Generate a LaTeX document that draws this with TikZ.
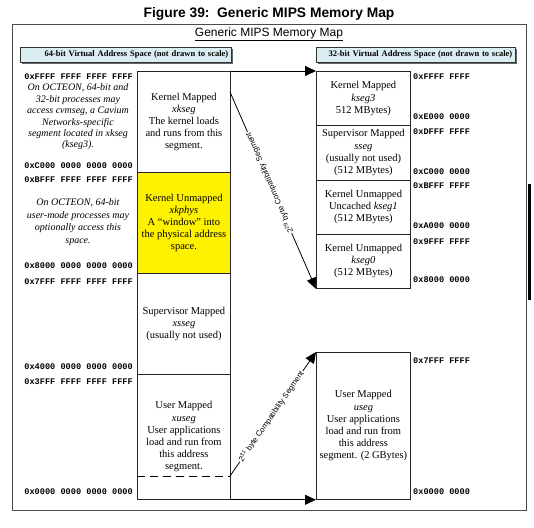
\documentclass[tikz,border=0pt]{standalone}
\usepackage{fontspec}
\setmainfont{Liberation Serif}
\newfontfamily\arialf{Liberation Sans}
\newfontfamily\monof{Liberation Mono}
\usetikzlibrary{arrows.meta,shadows}
\definecolor{hdrcyan}{RGB}{218,238,242}
\tikzset{
  seg/.style={draw=black!85, line width=0.8pt, anchor=north west, inner sep=0pt, align=center,
    font=\fontsize{10.5}{12.2}\selectfont},
  hdr/.style={draw=black!80, fill=hdrcyan, line width=0.6pt, anchor=north west,
    drop shadow={shadow xshift=1.2pt, shadow yshift=-1.2pt, fill=black!60, opacity=1},
    text width=203pt, align=right, inner xsep=3pt, inner ysep=0pt, minimum height=15pt,
    font=\bfseries\fontsize{8.5}{9}\selectfont},
  addrl/.style={anchor=east, inner sep=0pt, font=\monof\bfseries\fontsize{8.6}{9}\selectfont},
  addrr/.style={anchor=west, inner sep=0pt, font=\monof\bfseries\fontsize{8.6}{9}\selectfont},
  note/.style={align=center, inner sep=0pt, font=\itshape\fontsize{10}{11.4}\selectfont},
  arr/.style={line width=0.8pt, -{Triangle[length=11pt,width=10pt]}},
  lbl/.style={fill=white, inner sep=1pt, font=\arialf\fontsize{7.8}{9}\selectfont}
}
\begin{document}
\begin{tikzpicture}[x=1pt,y=-1pt]
\fill[white] (0,0) rectangle (534,527);
\useasboundingbox (0,0) rectangle (534,527);

\node[font=\arialf\bfseries\fontsize{13.8}{16}\selectfont] (title) at (269,14) {Figure 39:\ \ Generic MIPS Memory Map};
\node[draw=black!70, line width=0.8pt, minimum width=514pt, minimum height=486pt, anchor=north west, inner sep=0pt] (frame) at (12,24) {};
\node[font=\arialf\fontsize{12}{13}\selectfont] (sub) at (269,34) {\underline{Generic MIPS Memory Map}};

\node[hdr, text width=205pt] (h64) at (20,47) {64-bit Virtual Address Space (not drawn to scale)};
\node[hdr, text width=193pt] (h32) at (316,47) {32-bit Virtual Address Space (not drawn to scale)};

% 64-bit column
\node[seg, minimum width=93pt, minimum height=101pt] (xkseg) at (137,71)
  {Kernel Mapped\\\textit{xkseg}\\The kernel loads\\and runs from this\\segment.};
\node[seg, fill=yellow, minimum width=93pt, minimum height=101pt] (xkphys) at (137,172)
  {Kernel Unmapped\\\textit{xkphys}\\A “window” into\\the physical address\\space.};
\node[seg, minimum width=93pt, minimum height=101pt] (xsseg) at (137,273)
  {Supervisor Mapped\\\textit{xsseg}\\(usually not used)};
\node[seg, minimum width=93pt, minimum height=125pt] (xuseg) at (137,374)
  {User Mapped\\\textit{xuseg}\\User applications\\load and run from\\this address\\segment.};

% 32-bit column
\node[seg, minimum width=94pt, minimum height=54.25pt] (kseg3) at (316,71)
  {Kernel Mapped\\\textit{kseg3}\\512 MBytes)};
\node[seg, minimum width=94pt, minimum height=54.25pt] (sseg) at (316,125.25)
  {Supervisor Mapped\\\textit{sseg}\\(usually not used)\\(512 MBytes)};
\node[seg, minimum width=94pt, minimum height=54.25pt] (kseg1) at (316,179.5)
  {Kernel Unmapped\\Uncached \textit{kseg1}\\(512 MBytes)};
\node[seg, minimum width=94pt, minimum height=54.25pt] (kseg0) at (316,233.75)
  {Kernel Unmapped\\\textit{kseg0}\\(512 MBytes)};
\node[seg, minimum width=94pt, minimum height=147pt] (useg) at (316,352)
  {User Mapped\\\textit{useg}\\User applications\\load and run from\\this address\\segment. (2 GBytes)};

% notes
\node[note] (n1) at (78,117) {On OCTEON, 64-bit and\\32-bit processes may\\access cvmseg, a Cavium\\Networks-specific\\segment located in xkseg\\(kseg3).};
\node[note, font=\itshape\fontsize{10}{12.8}\selectfont] (n2) at (78,222) {On OCTEON, 64-bit\\user-mode processes may\\optionally access this\\space.};

% left addresses
\node[addrl] (a1) at (133,77) {0xFFFF FFFF FFFF FFFF};
\node[addrl] (a2) at (133,166) {0xC000 0000 0000 0000};
\node[addrl] (a3) at (133,180) {0xBFFF FFFF FFFF FFFF};
\node[addrl] (a4) at (133,266) {0x8000 0000 0000 0000};
\node[addrl] (a5) at (133,282) {0x7FFF FFFF FFFF FFFF};
\node[addrl] (a6) at (133,367) {0x4000 0000 0000 0000};
\node[addrl] (a7) at (133,382) {0x3FFF FFFF FFFF FFFF};
\node[addrl] (a8) at (133,492) {0x0000 0000 0000 0000};

% right addresses
\node[addrr] (b1) at (413,77) {0xFFFF FFFF};
\node[addrr] (b2) at (413,117) {0xE000 0000};
\node[addrr] (b3) at (413,132) {0xDFFF FFFF};
\node[addrr] (b4) at (413,172) {0xC000 0000};
\node[addrr] (b5) at (413,186) {0xBFFF FFFF};
\node[addrr] (b6) at (413,226) {0xA000 0000};
\node[addrr] (b7) at (413,242) {0x9FFF FFFF};
\node[addrr] (b8) at (413,280) {0x8000 0000};
\node[addrr] (b9) at (413,361) {0x7FFF FFFF};
\node[addrr] (b10) at (413,492) {0x0000 0000};

% connectors
\draw[arr] (xkseg.north east) -- (kseg3.north west);
\draw[arr] (xuseg.south east) -- (useg.south west);
\coordinate (c29) at (230,92);
\draw[line width=0.8pt, {Triangle[length=11pt,width=10pt]}-] (kseg0.south west) --
  node[lbl, sloped, allow upside down, pos=0.54] {2\textsuperscript{29} byte Compatibility Segment} (c29);
\coordinate (dl) at (137,476);
\coordinate (dr) at (230,476);
\draw[line width=0.8pt, dash pattern=on 8pt off 5pt] (dl) -- (dr);
\draw[arr] (dr) -- node[lbl, sloped, pos=0.48] {2\textsuperscript{31} byte Compatibility Segment} (useg.north west);

% scan edge
\fill[black] (528,184) rectangle (531,300);
\end{tikzpicture}
\end{document}
